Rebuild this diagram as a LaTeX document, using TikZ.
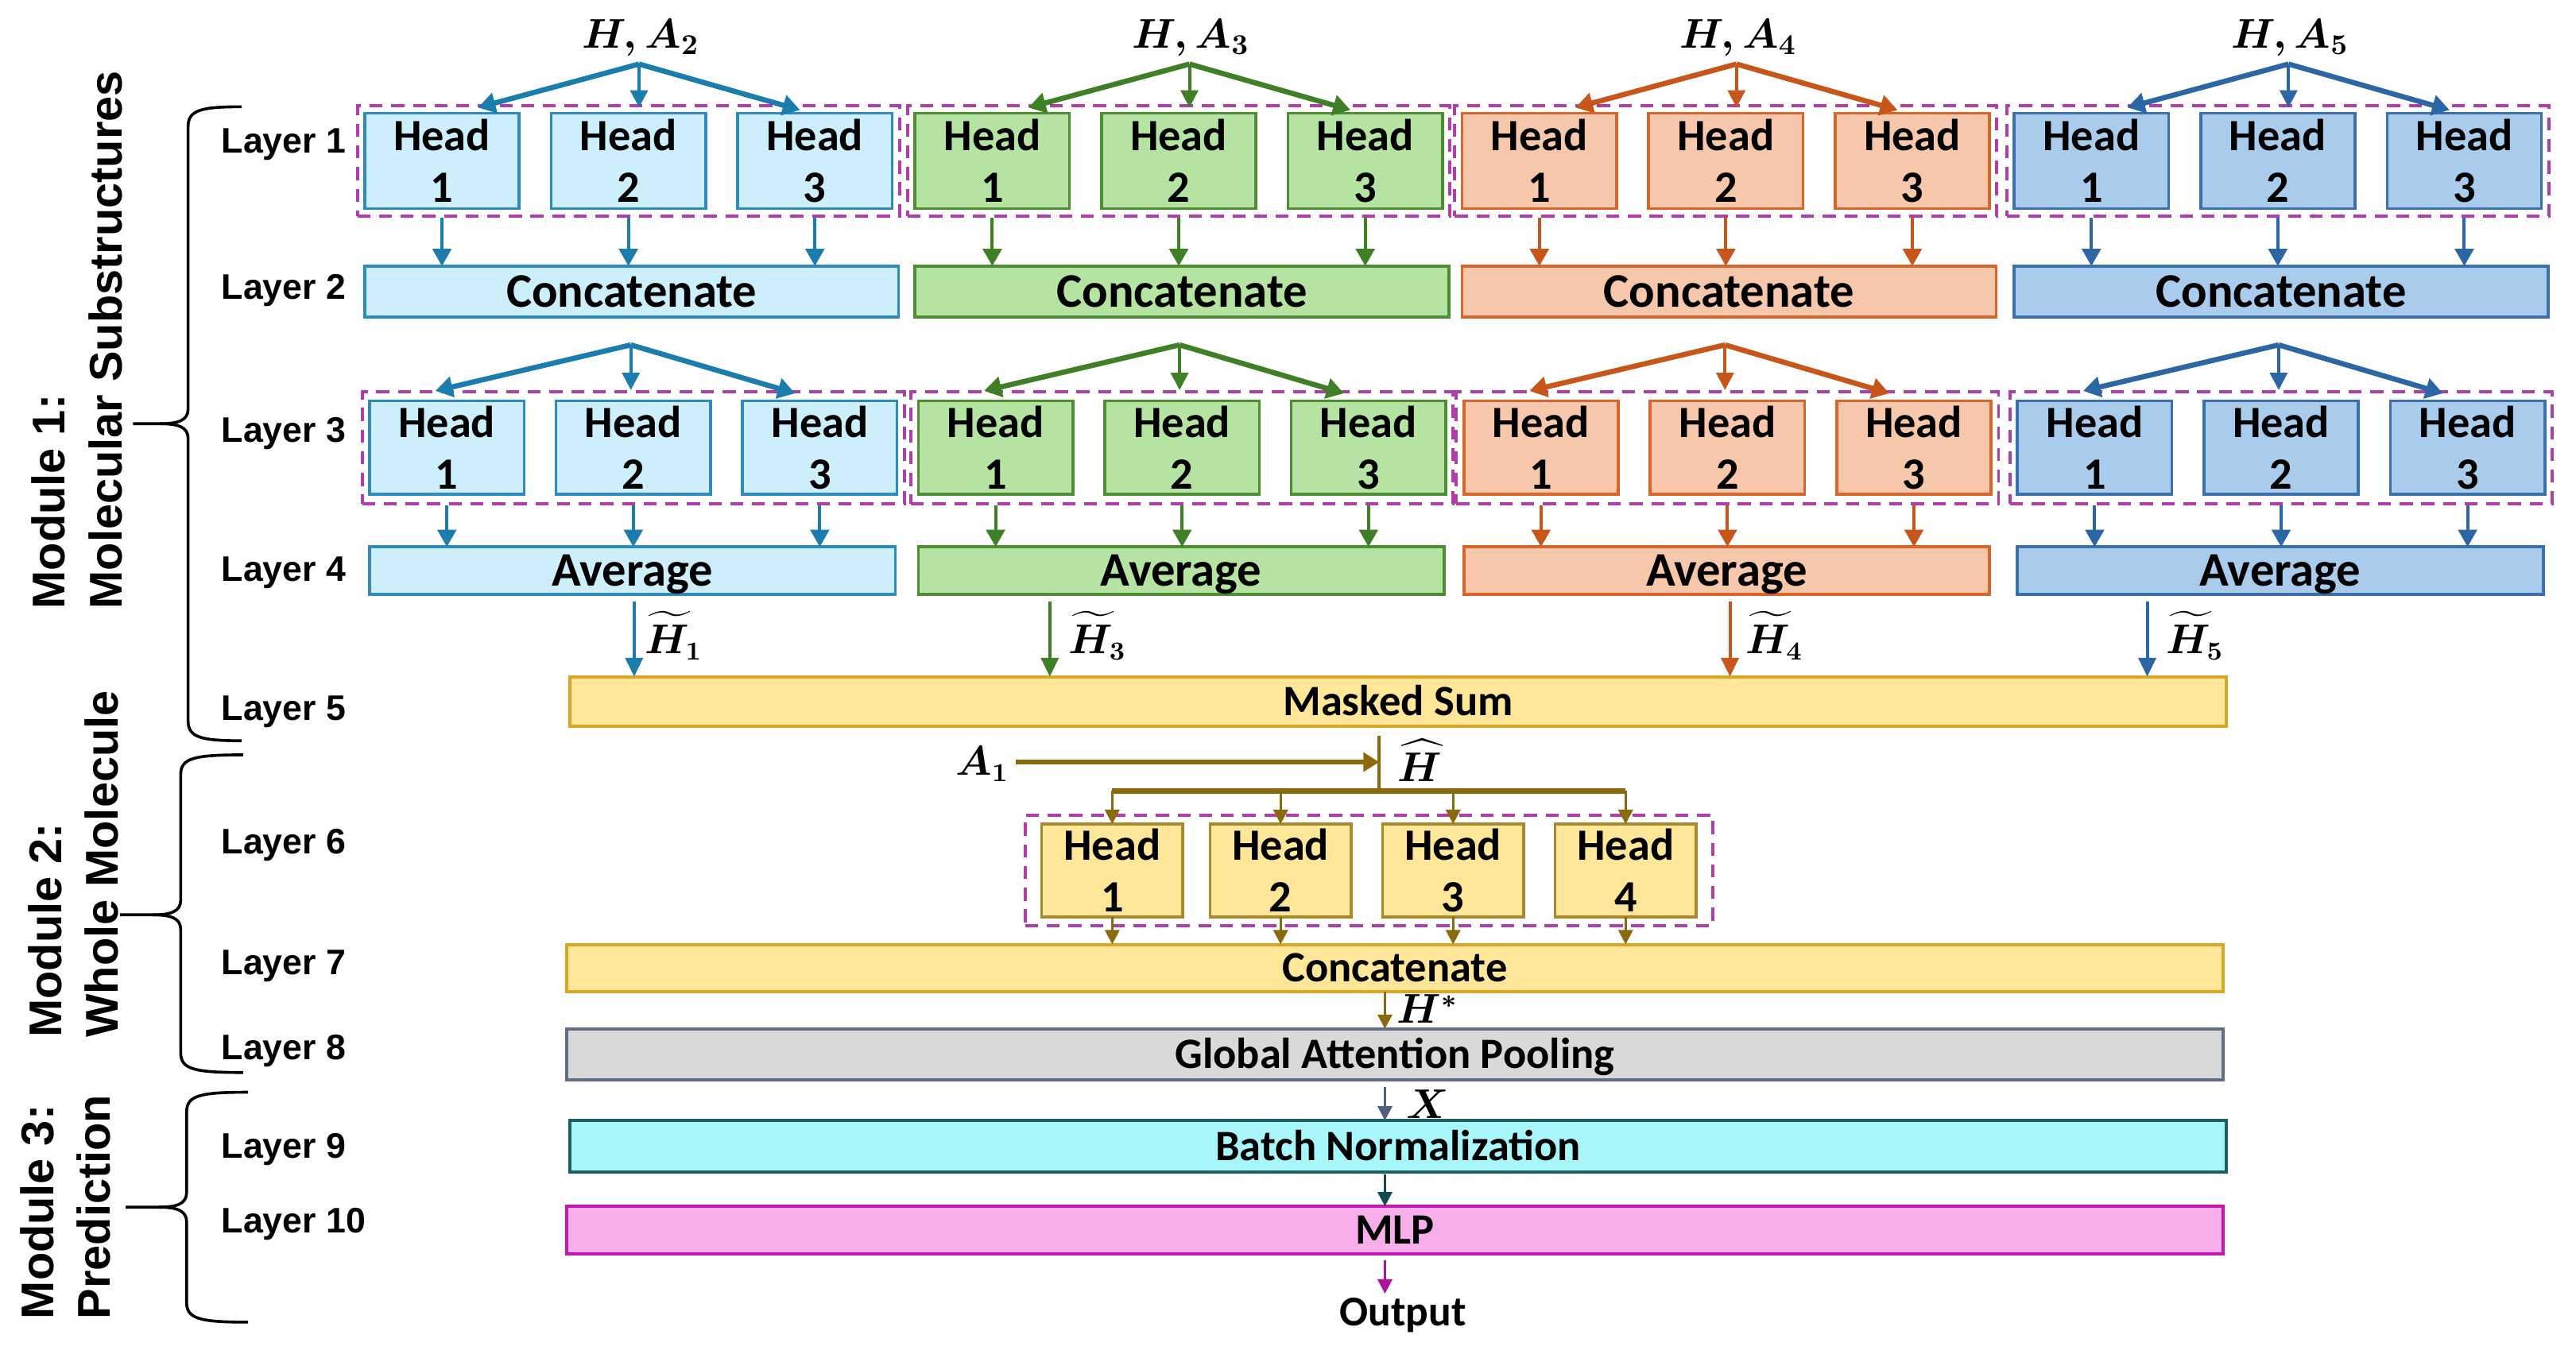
\documentclass[tikz,border=0pt]{standalone}
\usepackage{amsmath}
\usepackage{fontspec}
\usetikzlibrary{arrows.meta,fit,calc}
\newfontfamily\carl{Carlito}
\newfontfamily\arl{Liberation Sans}
\def\U{0.02cm}
\definecolor{bAf}{HTML}{CDEFFB}\definecolor{bAd}{HTML}{2E8BC0}\definecolor{bAa}{HTML}{1B7DAE}
\definecolor{gAf}{HTML}{B5E3A1}\definecolor{gAd}{HTML}{4E8E33}\definecolor{gAa}{HTML}{3F7F25}
\definecolor{oAf}{HTML}{F7C7AB}\definecolor{oAd}{HTML}{D9652B}\definecolor{oAa}{HTML}{C8561A}
\definecolor{dAf}{HTML}{A9CBEC}\definecolor{dAd}{HTML}{3A70AC}\definecolor{dAa}{HTML}{2C66A5}
\definecolor{dashc}{HTML}{B03DAA}
\definecolor{yf}{HTML}{FFE699}\definecolor{yd}{HTML}{D9A823}\definecolor{hyd}{HTML}{A88A2E}
\definecolor{modb}{HTML}{8B6A0E}
\definecolor{gpf}{HTML}{D9D9D9}\definecolor{gpd}{HTML}{5F6F86}\definecolor{xcol}{HTML}{4F6080}
\definecolor{bnf}{HTML}{A7F6FA}\definecolor{bnd}{HTML}{1F5E60}\definecolor{bna}{HTML}{144B4F}
\definecolor{mlf}{HTML}{F9AEEC}\definecolor{mld}{HTML}{C21AB0}\definecolor{mla}{HTML}{B0109E}
\newcommand\mybrace[6]{%
  \draw[bracestyle] (#2,#4) .. controls ({#1+8},#4) and (#1,{#4+2}) .. (#1,{#4+12})
    -- (#1,{#5-9}) .. controls (#1,{#5-2}) and ({#1-6},#5) .. ({#1-17},#5) -- (#3,#5);
  \draw[bracestyle] ({#1-17},#5) .. controls ({#1-6},#5) and (#1,{#5+2}) .. (#1,{#5+9})
    -- (#1,{#6-12}) .. controls (#1,{#6-2}) and ({#1+8},#6) .. (#2,#6);
}
\begin{document}
\begin{tikzpicture}[x=0.02cm, y=-0.02cm,
  headbox/.style={draw, line width=1pt, minimum width=94*\U, minimum height=58*\U,
    inner sep=0pt, outer sep=0pt, align=center, font=\carl\bfseries\fontsize{15.5}{17.9}\selectfont},
  bigbar/.style={draw, line width=1pt, inner sep=0pt, outer sep=0pt, text height=10.7pt, text depth=0pt,
    font=\carl\bfseries\fontsize{16.7}{20}\selectfont},
  mbar/.style={draw, line width=1.1pt, inner sep=0pt, outer sep=0pt, text height=9.6pt, text depth=0pt,
    minimum width=1008*\U, font=\carl\bfseries\fontsize{15}{18}\selectfont},
  dashbox/.style={draw=dashc, dash pattern=on 4.5pt off 3pt, line width=1.1pt,
    inner xsep=4.5*\U, inner ysep=4.5*\U},
  fanthick/.style={line width=1.8pt, -{Triangle[length=6pt,width=7pt]}},
  fanthin/.style={line width=1.1pt, -{Triangle[length=6pt,width=6pt]}},
  darr/.style={line width=1.1pt, -{Triangle[length=6pt,width=6.5pt]}},
  tarr/.style={line width=1.1pt, shorten <=0.08cm, -{Triangle[length=6.5pt,width=6pt]}},
  marr/.style={line width=0.9pt, -{Triangle[length=5pt,width=5pt]}},
  toplab/.style={inner sep=0pt, font=\fontsize{14}{16}\selectfont},
  smlab/.style={inner sep=0pt, font=\fontsize{13.5}{15}\selectfont},
  laylab/.style={inner sep=0pt, anchor=base west, font=\arl\bfseries\fontsize{12.3}{14}\selectfont},
  modlab/.style={inner sep=0pt, align=left, rotate=90, anchor=north west,
    font=\arl\bfseries\fontsize{15.9}{19.6}\selectfont},
  bracestyle/.style={draw=black, line width=1pt}
]
\useasboundingbox (0,0) rectangle (1568,824);

% Masked sum
\node[mbar, fill=yf, draw=yd, minimum height=30*\U] (ms) at (851,427) {Masked Sum};

\foreach \g/\La/\Lb/\fc/\dc/\ac/\sa/\sb/\hx/\lx in {%
 1/222/225/bAf/bAd/bAa/2/1/386/24,%
 2/557/559/gAf/gAd/gAa/3/3/639/29,%
 3/890/891/oAf/oAd/oAa/4/4/1053/27,%
 4/1226/1228/dAf/dAd/dAa/5/5/1307/29}{%
  \foreach \k in {1,2,3}{%
    \node[headbox, fill=\fc, draw=\dc] (a\g\k) at ({\La+47+(\k-1)*113.5},98) {Head\\\k};
    \node[headbox, fill=\fc, draw=\dc, minimum height=57*\U] (c\g\k) at ({\Lb+47+(\k-1)*113.5},272.5) {Head\\\k};
  }
  \node[dashbox, fit=(a\g1)(a\g3)] (da\g) {};
  \node[dashbox, fit=(c\g1)(c\g3), inner ysep=5.5*\U] (dc\g) {};
  \node[bigbar, fill=\fc, draw=\dc, minimum width=325*\U, minimum height=31*\U] (cc\g) at ({\La+162.5},177.5) {Concatenate};
  \node[bigbar, fill=\fc, draw=\dc, minimum width=320*\U, minimum height=29*\U] (av\g) at ({\Lb+160},347.5) {Average};
  \node[toplab] (la\g) at ({\La+168},23) {$\boldsymbol{H,A_{\sa}}$};
  \coordinate (pa\g) at ({\La+167},39);
  \coordinate (pc\g) at ({\Lb+159},210);
  \coordinate (ta\g1) at ({\La+69},65.5);
  \coordinate (ta\g2) at ({\La+167},65.5);
  \coordinate (ta\g3) at ({\La+265},67);
  \coordinate (tc\g1) at ({\Lb+40},238);
  \coordinate (tc\g2) at ({\Lb+159},237.5);
  \coordinate (tc\g3) at ({\Lb+259},239.5);
  \draw[fanthick, draw=\ac] (pa\g) -- (ta\g1);
  \draw[fanthick, draw=\ac] (pa\g) -- (ta\g3);
  \draw[fanthin, draw=\ac] (pa\g) -- (ta\g2);
  \draw[fanthick, draw=\ac] (pc\g) -- (tc\g1);
  \draw[fanthick, draw=\ac] (pc\g) -- (tc\g3);
  \draw[fanthin, draw=\ac] (pc\g) -- (tc\g2);
  \foreach \k in {1,2,3}{%
    \draw[darr, draw=\ac] (a\g\k.south |- da\g.south) -- (a\g\k.south |- cc\g.north);
    \draw[darr, draw=\ac] (c\g\k.south |- dc\g.south) -- (c\g\k.south |- av\g.north);
  }
  \coordinate (hx\g) at (\hx,380);
  \draw[tarr, draw=\ac] (av\g.south -| hx\g) -- (ms.north -| hx\g);
  \node[smlab] (ht\g) at ({\hx+\lx},387) {$\boldsymbol{\widetilde{H}_{\sb}}$};
}

% Module 2
\node[smlab] (aone) at (598,465) {$\boldsymbol{A_1}$};
\coordinate (hj) at (839.5,464);
\coordinate (vtop) at (839.5,448);
\coordinate (vbot) at (839.5,481.5);
\node[smlab] (hh) at (864,463) {$\boldsymbol{\widehat{H}}$};
\foreach \k/\x in {1/677,2/779.5,3/884.5,4/989.5}{%
  \node[headbox, fill=yf, draw=hyd, minimum width=86*\U, minimum height=56.5*\U] (e\k) at (\x,530) {Head\\\k};
}
\node[dashbox, fit=(e1)(e4), inner xsep=10*\U, inner ysep=5.5*\U] (de) {};
\draw[draw=modb, line width=1.8pt, -{Triangle[length=5.5pt,width=6.5pt]}] (aone.east |- hj) ++(4,0) -- (hj);
\draw[draw=modb, line width=1.1pt] (vtop) -- (vbot);
\draw[draw=modb, line width=2pt] (e1.north |- vbot) -- (e4.north |- vbot);
\node[mbar, fill=yf, draw=yd, minimum height=29*\U] (cc7) at (849,589.5) {Concatenate};
\foreach \k in {1,2,3,4}{%
  \draw[marr, draw=modb] (e\k.north |- vbot) -- (e\k.north);
  \draw[marr, draw=modb] (e\k.south) -- (e\k.south |- cc7.north);
}
\node[mbar, fill=gpf, draw=gpd, minimum height=31*\U] (gp) at (849,642) {Global Attention Pooling};
\node[mbar, fill=bnf, draw=bnd, minimum height=31.5*\U] (bn) at (851,698) {Batch Normalization};
\node[mbar, fill=mlf, draw=mld, minimum height=29*\U] (mlp) at (849,749) {MLP};
\node[inner sep=0pt, font=\carl\bfseries\fontsize{14.7}{17}\selectfont] (out) at (854,801) {Output};
\coordinate (ax) at (843,700);
\draw[marr, draw=modb] (cc7.south -| ax) -- (gp.north -| ax);
\node[smlab] (hs) at (869,614) {$\boldsymbol{H^*}$};
\draw[marr, draw=xcol, shorten <=0.09cm] (gp.south -| ax) -- (bn.north -| ax);
\node[smlab] (xl) at (869,672.5) {$\boldsymbol{X}$};
\draw[marr, draw=bna, shorten <=0.03cm] (bn.south -| ax) -- (mlp.north -| ax);
\draw[marr, draw=mla, shorten <=0.08cm, shorten >=0.05cm] (mlp.south -| ax) -- (out.north -| ax);

% layer labels
\foreach \n/\y in {1/93,2/182,3/269.4,4/354,5/438.4,6/520,7/593.4,8/645,9/705.2,10/750.8}{%
  \node[laylab] (ly\n) at (134.5,\y) {Layer \n};
}

% module labels
\node[modlab] (mo1) at (19,371) {Module 1:\\Molecular Substructures};
\node[modlab] (mo2) at (17,632) {Module 2:\\Whole Molecule};
\node[modlab] (mo3) at (12,803.5) {Module 3:\\Prediction};

% braces
\mybrace{114.5}{147}{81}{65}{258}{451}
\mybrace{110}{148}{73}{459.6}{557}{653}
\mybrace{113.6}{151}{76.5}{665}{735}{805}
\end{tikzpicture}
\end{document}
